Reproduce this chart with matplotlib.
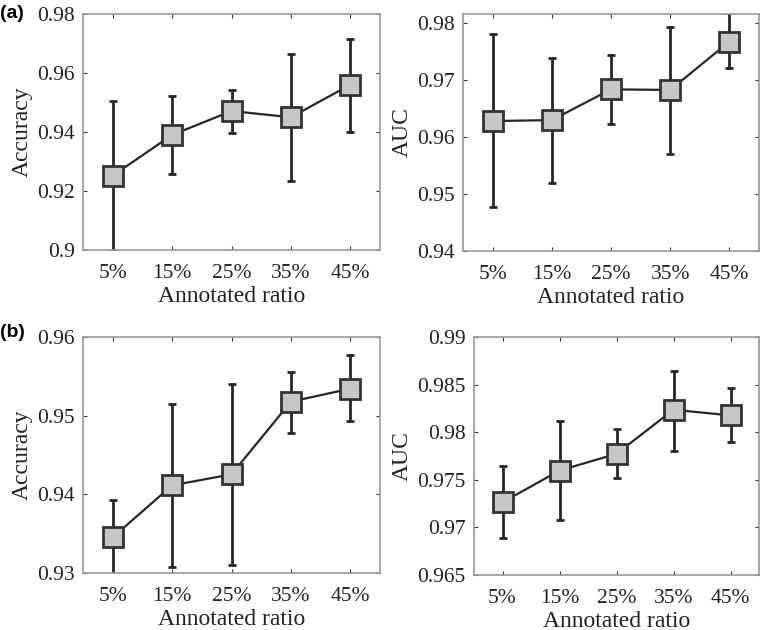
import numpy as np
import matplotlib
matplotlib.use("Agg")
import matplotlib.pyplot as plt
from matplotlib.ticker import FuncFormatter

ratios = ["5%", "15%", "25%", "35%", "45%"]

# panel (a)
acc_a = [0.9252, 0.9390, 0.9471, 0.9450, 0.9560]
acc_a_lo = [0.8998, 0.9257, 0.9398, 0.9234, 0.9401]
acc_a_hi = [0.9505, 0.9523, 0.9542, 0.9663, 0.9715]
auc_a = [0.96275, 0.96292, 0.9683, 0.9682, 0.97667]
auc_a_lo = [0.94766, 0.9519, 0.9622, 0.9570, 0.9721]
auc_a_hi = [0.97795, 0.9738, 0.9743, 0.9793, 0.9816]

# panel (b)
acc_b = [0.93453, 0.94114, 0.94254, 0.95178, 0.95343]
acc_b_lo = [0.9298, 0.93076, 0.93106, 0.94784, 0.94928]
acc_b_hi = [0.93932, 0.95153, 0.95403, 0.95555, 0.95771]
auc_b = [0.97264, 0.97597, 0.97773, 0.98236, 0.98176]
auc_b_lo = [0.96889, 0.97082, 0.97517, 0.97804, 0.97896]
auc_b_hi = [0.9765, 0.9812, 0.98032, 0.98646, 0.98467]

plt.rcParams['font.family'] = ['Liberation Serif', 'DejaVu Serif']

fig = plt.figure(figsize=(7.61, 6.30), dpi=100)

def panel(rect, mean, lo, hi, ylim, yticks, ylabel):
    ax = fig.add_axes(rect)
    x = np.arange(1, len(ratios) + 1)
    mean = np.array(mean)
    yerr = [mean - np.array(lo), np.array(hi) - mean]
    ax.errorbar(x, mean, yerr=yerr, fmt='s-', color='#262626', lw=1.6,
                elinewidth=2.0, capsize=3, capthick=2.0,
                ms=14, mfc='#c6c6c6', mec='#333333', mew=2.0)
    ax.set_xlim(0.5, 5.5)
    ax.set_ylim(*ylim)
    ax.set_xticks(x)
    ax.set_xticklabels(ratios)
    ax.set_yticks(yticks)
    ax.yaxis.set_major_formatter(FuncFormatter(lambda v, p: ('%g' % round(v, 4))))
    ax.tick_params(direction='in', top=True, right=True, length=3,
                   width=0.8, color='#333333', labelsize=15.5,
                   labelcolor='#222222')
    ax.tick_params(axis='x', pad=10)
    ax.tick_params(axis='y', pad=6)
    for s in ax.spines.values():
        s.set_color('#9a9a9a')
        s.set_linewidth(1.2)
    ax.set_xlabel("Annotated ratio", fontsize=17, color='#222222', labelpad=2)
    ax.set_ylabel(ylabel, fontsize=17, color='#222222', labelpad=3)
    return ax

panel([0.1091, 0.6032, 0.3903, 0.3746], acc_a, acc_a_lo, acc_a_hi,
      (0.9, 0.98), np.arange(0.9, 0.981, 0.02), "Accuracy")
panel([0.6084, 0.6016, 0.3890, 0.3762], auc_a, auc_a_lo, auc_a_hi,
      (0.94, 0.9815), np.arange(0.94, 0.981, 0.01), "AUC")
panel([0.1091, 0.0905, 0.3903, 0.3746], acc_b, acc_b_lo, acc_b_hi,
      (0.93, 0.96), np.arange(0.93, 0.9601, 0.01), "Accuracy")
panel([0.6229, 0.0873, 0.3745, 0.3778], auc_b, auc_b_lo, auc_b_hi,
      (0.965, 0.99), np.arange(0.965, 0.9901, 0.005), "AUC")

fig.text(0.0, 0.978, "(a)", fontsize=14, fontweight='bold',
         family=['Liberation Sans', 'DejaVu Sans'], va='center')
fig.text(0.0, 0.472, "(b)", fontsize=14, fontweight='bold',
         family=['Liberation Sans', 'DejaVu Sans'], va='center')

fig.savefig("out.png", dpi=100)
